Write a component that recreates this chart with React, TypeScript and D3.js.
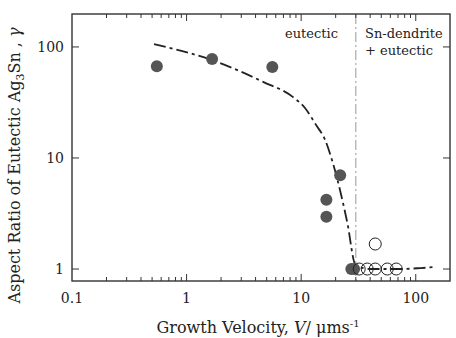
import React from "react";
import * as d3 from "d3";

// Eutectic (filled) measurements: growth velocity V (µm/s) and aspect ratio γ
const eutecticV = [0.55, 1.67, 5.6, 21.9, 16.6, 16.6, 27.4, 29.0];
const eutecticGamma = [67, 78, 66, 7.0, 4.2, 2.95, 1.0, 1.0];

// Sn-dendrite + eutectic (open) measurements
const dendriteV = [32.1, 37.7, 44.3, 56.4, 67.6, 44.3];
const dendriteGamma = [1.0, 1.0, 1.0, 1.0, 1.0, 1.68];

// Trend curve drawn through the data
const trendV = [0.52, 1.67, 4.65, 8.5, 10.8, 13.5, 16.2, 18.9, 25.3, 29.8, 40, 73, 110, 143];
const trendGamma = [106, 76, 48.5, 35.3, 28.2, 19.8, 14.5, 9.0, 2.6, 1.09, 1.0, 1.0, 1.02, 1.04];

// Boundary between the two growth regimes
const boundaryV = 30;

const xMajor = [0.1, 1, 10, 100];
const yMajor = [1, 10, 100];

const W = 456;
const H = 338;
const left = 72;
const right = 450;
const top = 14;
const bottom = 281;

export default function App() {
  const x = d3.scaleLog().domain([0.1, 199]).range([left, right]);
  const y = d3.scaleLog().domain([0.78, 198]).range([bottom, top]);

  const minor: number[] = [];
  for (const base of [0.1, 1, 10, 100]) {
    for (let k = 2; k <= 9; k++) {
      const v = base * k;
      if (x(v) < right - 1) minor.push(v);
    }
  }

  const line = d3
    .line<number>()
    .x((_, i) => x(trendV[i]))
    .y((_, i) => y(trendGamma[i]))
    .curve(d3.curveMonotoneX);

  const serif = "'DejaVu Serif', serif";
  const ink = "#333";

  return (
    <svg width={W} height={H} style={{ position: "absolute", left: 0, top: 0 }}>
      <rect x={0} y={0} width={W} height={H} fill="#fff" />
      {/* regime boundary */}
      <line
        x1={x(boundaryV)}
        x2={x(boundaryV)}
        y1={top}
        y2={bottom}
        stroke="#999"
        strokeWidth={1}
        strokeDasharray="10 3 2 3"
      />
      {/* trend curve */}
      <path
        d={line(trendV) || ""}
        fill="none"
        stroke="#222"
        strokeWidth={1.8}
        strokeDasharray="12 4 3 4"
      />
      {/* filled points */}
      {eutecticV.map((v, i) => (
        <circle key={"e" + i} cx={x(v)} cy={y(eutecticGamma[i])} r={6} fill="#555" />
      ))}
      {/* open points */}
      {dendriteV.map((v, i) => (
        <circle
          key={"d" + i}
          cx={x(v)}
          cy={y(dendriteGamma[i])}
          r={6}
          fill="none"
          stroke="#222"
          strokeWidth={1}
        />
      ))}
      {/* frame */}
      <rect
        x={left}
        y={top}
        width={right - left}
        height={bottom - top}
        fill="none"
        stroke={ink}
        strokeWidth={1.4}
      />
      {/* x ticks */}
      {xMajor.slice(1).map((v) => (
        <g key={"xm" + v}>
          <line x1={x(v)} x2={x(v)} y1={bottom} y2={bottom - 7} stroke={ink} strokeWidth={1} />
          <line x1={x(v)} x2={x(v)} y1={top} y2={top + 7} stroke={ink} strokeWidth={1} />
        </g>
      ))}
      {minor.map((v) => (
        <g key={"xn" + v}>
          <line x1={x(v)} x2={x(v)} y1={bottom} y2={bottom - 4} stroke={ink} strokeWidth={1} />
          <line x1={x(v)} x2={x(v)} y1={top} y2={top + 4} stroke={ink} strokeWidth={1} />
        </g>
      ))}
      {xMajor.map((v) => (
        <text
          key={"xl" + v}
          x={x(v)}
          y={bottom + 22}
          textAnchor="middle"
          fontFamily={serif}
          fontSize={14}
          fill="#222"
        >
          {d3.format("~g")(v)}
        </text>
      ))}
      {/* y ticks */}
      {yMajor.map((v) => (
        <g key={"ym" + v}>
          <line x1={left} x2={left + 7} y1={y(v)} y2={y(v)} stroke={ink} strokeWidth={1} />
          <line x1={right} x2={right - 7} y1={y(v)} y2={y(v)} stroke={ink} strokeWidth={1} />
          <text
            x={left - 8}
            y={y(v)}
            dy="0.35em"
            textAnchor="end"
            fontFamily={serif}
            fontSize={14}
            fill="#222"
          >
            {v}
          </text>
        </g>
      ))}
      {/* regime labels */}
      <text x={285} y={38} fontFamily={serif} fontSize={13} fill="#222">
        eutectic
      </text>
      <text x={365} y={38} fontFamily={serif} fontSize={13} fill="#222">
        Sn-dendrite
      </text>
      <text x={365} y={55} fontFamily={serif} fontSize={13} fill="#222">
        + eutectic
      </text>
      {/* axis titles */}
      <text
        x={258}
        y={333}
        textAnchor="middle"
        fontFamily={serif}
        fontSize={16}
        fill="#222"
      >
        Growth Velocity, <tspan fontStyle="italic">V</tspan>/ μms
        <tspan dy={-6} fontSize={10}>-1</tspan>
      </text>
      <text
        transform={`translate(20,${(top + bottom) / 2 + 18}) rotate(-90)`}
        textAnchor="middle"
        fontFamily={serif}
        fontSize={16}
        fill="#222"
      >
        Aspect Ratio of Eutectic Ag
        <tspan dy={4} fontSize={11}>3</tspan>
        <tspan dy={-4}>Sn , </tspan>
        <tspan fontStyle="italic">γ</tspan>
      </text>
    </svg>
  );
}
